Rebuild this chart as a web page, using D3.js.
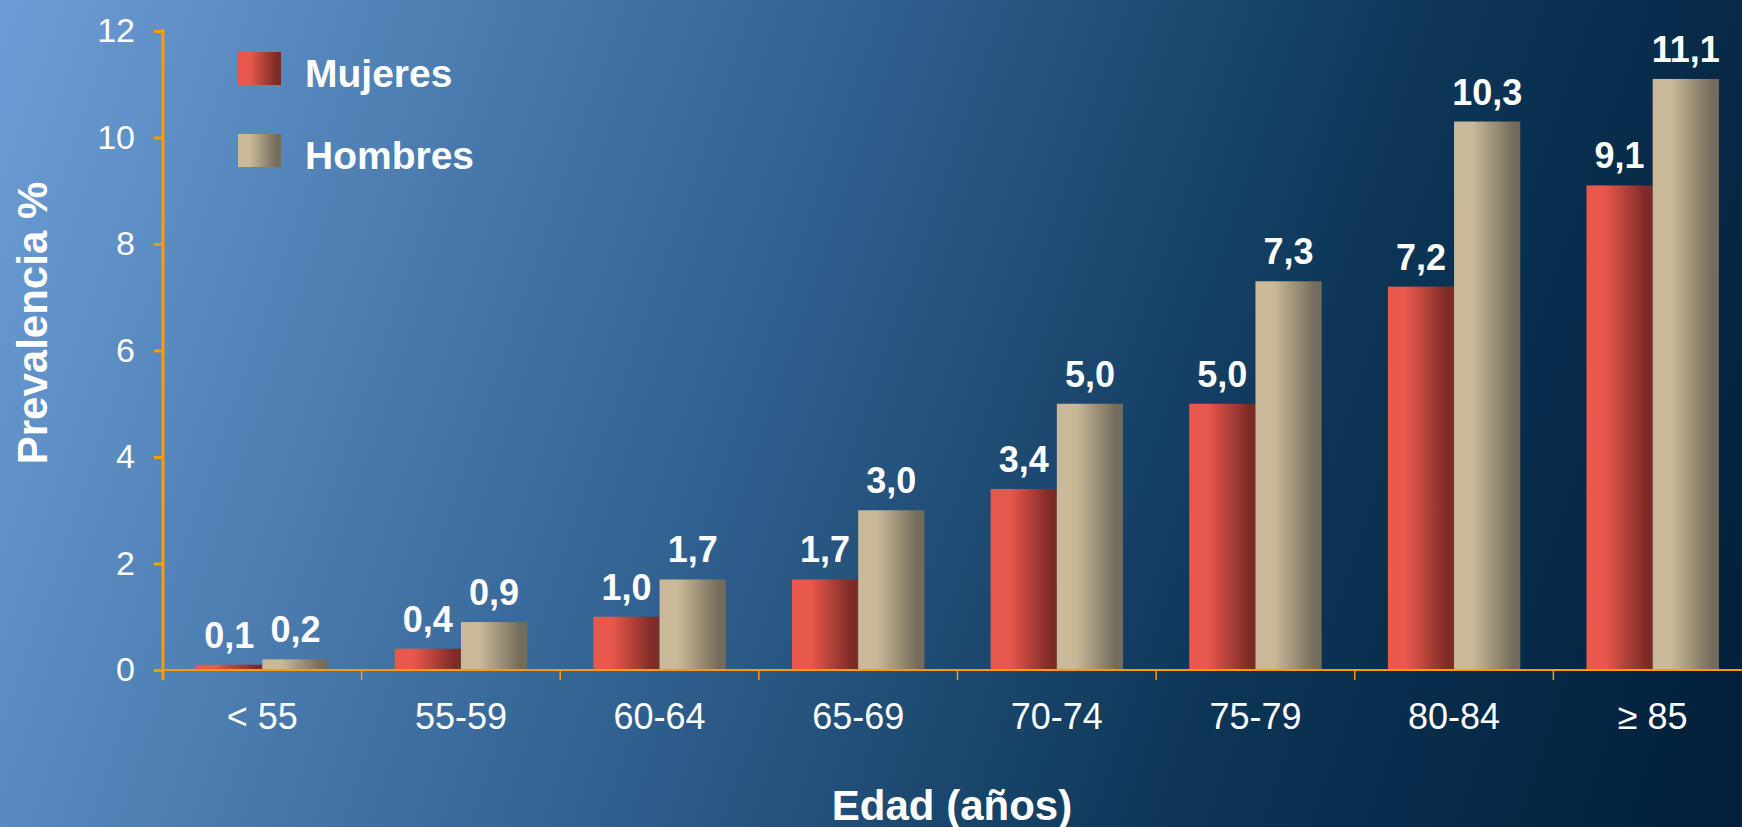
<!DOCTYPE html>
<html>
<head>
<meta charset="utf-8">
<script src="https://cdn.jsdelivr.net/npm/d3@7"></script>
<style>
  html, body { margin: 0; padding: 0; overflow: hidden; }
  svg { display: block; font-family: "Liberation Sans", Arial, sans-serif; }
</style>
</head>
<body>
<div id="graph"></div>
<script>
// age groups and prevalence (%) per sex
const categories = ["< 55", "55-59", "60-64", "65-69", "70-74", "75-79", "80-84", "≥ 85"];
const series = ["Mujeres", "Hombres"];
const mujeres = [0.1, 0.4, 1.0, 1.7, 3.4, 5.0, 7.2, 9.1];
const hombres = [0.2, 0.9, 1.7, 3.0, 5.0, 7.3, 10.3, 11.1];
const yTicks = [0, 2, 4, 6, 8, 10, 12];

const width = 1742, height = 827;
const orange = "#ff9a00";

const svg = d3.select("#graph")
  .append("svg")
    .attr("width", width)
    .attr("height", height);

const defs = svg.append("defs");

// background: light blue top-left fading to navy bottom-right
const bg = defs.append("linearGradient")
  .attr("id", "bg")
  .attr("gradientUnits", "userSpaceOnUse")
  .attr("x1", 0).attr("y1", 0)
  .attr("x2", width).attr("y2", 600);
[[0, "#6c9dd6"], [0.45, "#30608f"], [0.75, "#0c3556"], [1, "#03213d"]]
  .forEach(([o, c]) => bg.append("stop").attr("offset", o).attr("stop-color", c));

// horizontal shading for the bars
const shades = {
  Mujeres: ["#e8584c", "#7d2b27"],
  Hombres: ["#c9b999", "#736b5b"]
};
series.forEach(s => {
  const g = defs.append("linearGradient")
    .attr("id", "grad-" + s)
    .attr("x1", 0).attr("y1", 0).attr("x2", 1).attr("y2", 0);
  g.append("stop").attr("offset", 0).attr("stop-color", shades[s][0]);
  g.append("stop").attr("offset", 0.28).attr("stop-color", shades[s][0]);
  g.append("stop").attr("offset", 0.9).attr("stop-color", shades[s][1]);
  g.append("stop").attr("offset", 1).attr("stop-color", shades[s][1]);
});

svg.append("rect")
  .attr("width", width)
  .attr("height", height)
  .attr("fill", "url(#bg)");

// scales
const x = d3.scaleBand()
  .domain(categories)
  .range([163, 1752])
  .paddingInner(0)
  .paddingOuter(0);

const x1 = d3.scaleBand()
  .domain(series)
  .range([0, x.bandwidth()])
  .paddingInner(0)
  .paddingOuter(0.5);

const y = d3.scaleLinear()
  .domain([0, 12])
  .range([670, 31]);

const rows = categories.map((c, i) => ({
  cat: c,
  values: [
    {key: "Mujeres", value: mujeres[i]},
    {key: "Hombres", value: hombres[i]}
  ]
}));

const fmt = v => d3.format(".1f")(v).replace(".", ",");

// bars
const groups = svg.append("g")
  .selectAll("g")
  .data(rows)
  .join("g")
    .attr("transform", d => `translate(${x(d.cat)},0)`);

groups.selectAll("rect")
  .data(d => d.values)
  .join("rect")
    .attr("x", d => x1(d.key))
    .attr("y", d => y(d.value))
    .attr("width", x1.bandwidth())
    .attr("height", d => y(0) - y(d.value))
    .attr("fill", d => `url(#grad-${d.key})`);

groups.selectAll("text")
  .data(d => d.values)
  .join("text")
    .attr("x", d => x1(d.key) + x1.bandwidth() / 2)
    .attr("y", d => y(d.value) - 17)
    .attr("text-anchor", "middle")
    .attr("fill", "#fff")
    .attr("font-weight", "bold")
    .attr("font-size", 36)
    .text(d => fmt(d.value));

// x axis: baseline, boundary ticks and centred labels
const xAxis = svg.append("g");
xAxis.append("line")
  .attr("x1", 163).attr("x2", width)
  .attr("y1", y(0)).attr("y2", y(0))
  .attr("stroke", orange)
  .attr("stroke-width", 2);

xAxis.selectAll(".bound")
  .data(categories.slice(1))
  .join("line")
    .attr("class", "bound")
    .attr("x1", d => x(d)).attr("x2", d => x(d))
    .attr("y1", y(0)).attr("y2", y(0) + 10)
    .attr("stroke", orange)
    .attr("stroke-width", 1.5);

xAxis.selectAll(".lbl")
  .data(categories)
  .join("text")
    .attr("class", "lbl")
    .attr("x", d => x(d) + x.bandwidth() / 2)
    .attr("y", 729)
    .attr("text-anchor", "middle")
    .attr("fill", "#fff")
    .attr("font-size", 36)
    .text(d => d);

// y axis
const yAxis = svg.append("g")
  .attr("transform", "translate(163,0)")
  .call(d3.axisLeft(y).tickValues(yTicks).tickSizeInner(9).tickSizeOuter(0).tickPadding(19));

yAxis.select(".domain").remove();
yAxis.append("line")
  .attr("x1", 0).attr("x2", 0)
  .attr("y1", y(12) - 2).attr("y2", y(0) + 10)
  .attr("stroke", orange)
  .attr("stroke-width", 3);
yAxis.selectAll(".tick line")
  .attr("stroke", orange)
  .attr("stroke-width", 3);
yAxis.selectAll(".tick text")
  .attr("fill", "#fff")
  .attr("font-size", 34)
  .attr("font-family", "\"Liberation Sans\", Arial, sans-serif");

// axis titles
svg.append("text")
  .attr("transform", "translate(47,323) rotate(-90)")
  .attr("text-anchor", "middle")
  .attr("fill", "#fff")
  .attr("font-weight", "bold")
  .attr("font-size", 42)
  .text("Prevalencia %");

svg.append("text")
  .attr("x", 952)
  .attr("y", 820)
  .attr("text-anchor", "middle")
  .attr("fill", "#fff")
  .attr("font-weight", "bold")
  .attr("font-size", 42)
  .text("Edad (años)");

// legend
const legend = svg.append("g")
  .selectAll("g")
  .data(series)
  .join("g")
    .attr("transform", (d, i) => `translate(238,${52 + i * 82})`);

legend.append("rect")
  .attr("width", 43)
  .attr("height", 33)
  .attr("fill", d => `url(#grad-${d})`);

legend.append("text")
  .attr("x", 67)
  .attr("y", 35)
  .attr("fill", "#fff")
  .attr("font-weight", "bold")
  .attr("font-size", 39)
  .text(d => d);
</script>
</body>
</html>
